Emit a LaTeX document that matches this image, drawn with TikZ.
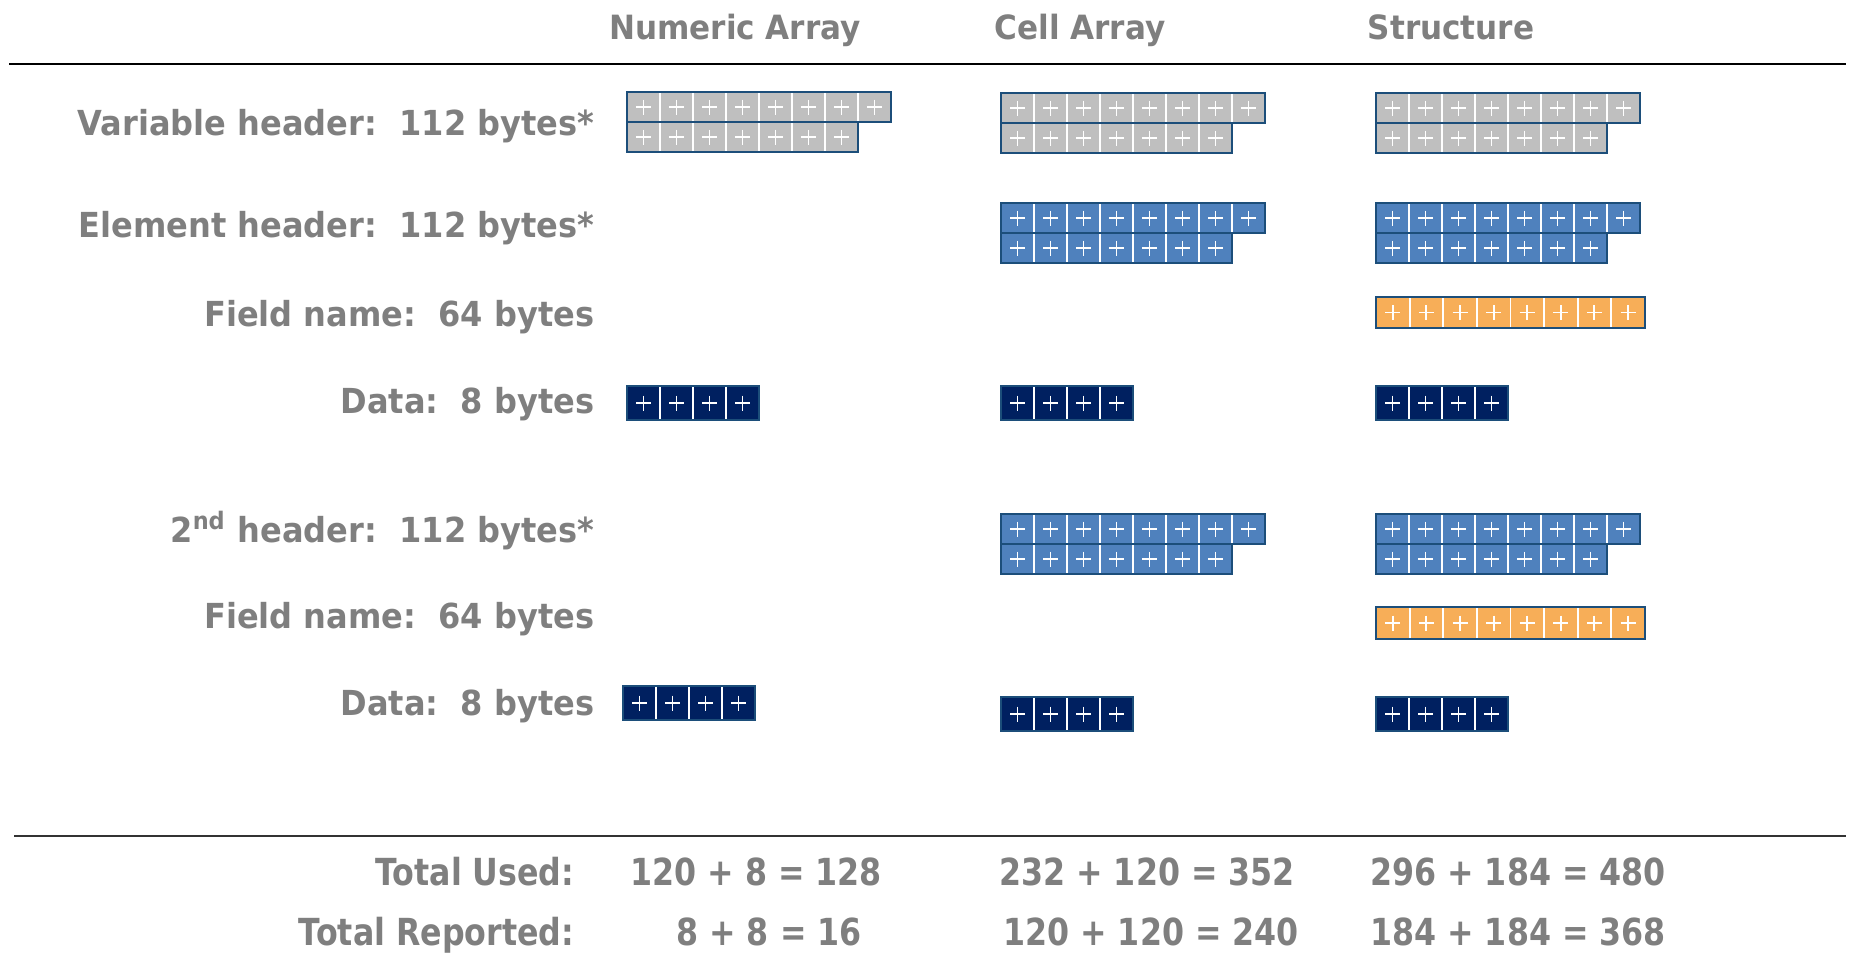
\documentclass[tikz,border=0pt]{standalone}
\usepackage{fontspec}
\setmainfont{DejaVu Sans}[FakeStretch=0.93]
\newfontfamily\totfont{DejaVu Sans}[FakeStretch=0.85]
\usepackage{xcolor}
\usepackage{tikz}
\usetikzlibrary{positioning}

\definecolor{txtgray}{RGB}{127,127,127}
\definecolor{hdrgray}{RGB}{191,191,191}
\definecolor{hdrblue}{RGB}{79,129,189}
\definecolor{fldorange}{RGB}{247,174,88}
\definecolor{datanavy}{RGB}{0,32,96}
\definecolor{edgeblue}{RGB}{28,78,122}

\tikzset{
  lbl/.style={anchor=base east, text=txtgray, font=\bfseries\fontsize{9.8}{11}\selectfont, inner sep=0pt},
  colhead/.style={anchor=base, text=txtgray, font=\bfseries\fontsize{9.5}{11}\selectfont, inner sep=0pt},
  tot/.style={anchor=base east, text=txtgray, font=\totfont\bfseries\fontsize{10.6}{12}\selectfont, inner sep=0pt},
  totval/.style={anchor=base, text=txtgray, font=\totfont\bfseries\fontsize{10.6}{12}\selectfont, inner sep=0pt},
  cellline/.style={draw=white, line width=0.5pt},
  plusline/.style={draw=white, line width=0.55pt},
  blockline/.style={draw=edgeblue, line width=0.55pt},
}

% one row of byte cells: x, y (top left), count, fill, height, width
\newcommand{\cellrow}[6]{%
  \foreach \i in {1,...,#3}{
    \fill[#4] ({#1+(\i-1)*#6},#2) rectangle ++(#6,#5);
    \draw[cellline] ({#1+(\i-1)*#6},#2) rectangle ++(#6,#5);
    \draw[plusline] ({#1+(\i-0.5)*#6-7.5},{#2+#5/2}) -- ++(15,0)
      ({#1+(\i-0.5)*#6},{#2+#5/2-7.5}) -- ++(0,15);
  }
  \draw[blockline] (#1,#2) rectangle ++({#3*#6},#5);
}
% 112 byte header: 8 cells over 7 cells
\newcommand{\hdrblock}[3]{%
  \cellrow{#1}{#2}{8}{#3}{30}{33}
  \cellrow{#1}{#2+30}{7}{#3}{30}{33}
  \fill[white] ({#1+231},{#2+31}) rectangle ++(40,30);
  \draw[blockline] (#1,#2) -- ++(264,0) -- ++(0,30) -- ++(-33,0)
    -- ++(0,30) -- ++(-231,0) -- cycle;
}

\begin{document}
\begin{tikzpicture}[x=0.01cm,y=-0.01cm]
  \useasboundingbox (0,0) rectangle (1849,953);

  % column titles
  \node[colhead] (hnum) at (735,39) {Numeric Array};
  \node[colhead] (hcell) at (1080,39) {Cell Array};
  \node[colhead] (hstruct) at (1451,39) {Structure};
  \draw[line width=0.6pt] (9,64) -- (1846,64);

  % row labels
  \node[lbl] (lvar) at (595,135) {Variable header:~~112 bytes*};
  \node[lbl] (lelem) at (595,237) {Element header:~~112 bytes*};
  \node[lbl] (lfld) at (595,326) {Field name:~~64 bytes};
  \node[lbl] (ldat) at (595,413) {Data:~~8 bytes};
  \node[lbl] (lsec) at (595,542) {2\textsuperscript{nd} header:~~112 bytes*};
  \node[lbl] (lfldb) at (595,628) {Field name:~~64 bytes};
  \node[lbl] (ldatb) at (595,715) {Data:~~8 bytes};

  % numeric array
  \hdrblock{627}{92}{hdrgray}
  \cellrow{627}{386}{4}{datanavy}{34}{33}
  \cellrow{623}{686}{4}{datanavy}{34}{33}

  % cell array
  \hdrblock{1001}{93}{hdrgray}
  \hdrblock{1001}{203}{hdrblue}
  \cellrow{1001}{386}{4}{datanavy}{34}{33}
  \hdrblock{1001}{514}{hdrblue}
  \cellrow{1001}{697}{4}{datanavy}{34}{33}

  % structure
  \hdrblock{1376}{93}{hdrgray}
  \hdrblock{1376}{203}{hdrblue}
  \cellrow{1376}{297}{8}{fldorange}{31}{33.6}
  \cellrow{1376}{386}{4}{datanavy}{34}{33}
  \hdrblock{1376}{514}{hdrblue}
  \cellrow{1376}{607}{8}{fldorange}{32}{33.6}
  \cellrow{1376}{697}{4}{datanavy}{34}{33}

  % totals
  \draw[line width=0.6pt, black!80] (14,836) -- (1846,836);
  \node[tot] (tused) at (575,885) {Total Used:};
  \node[tot] (trep) at (575,945) {Total Reported:};
  \node[totval] (unum) at (756,885) {120 + 8 = 128};
  \node[totval] (ucell) at (1147,885) {232 + 120 = 352};
  \node[totval] (ustruct) at (1518,885) {296 + 184 = 480};
  \node[totval] (rnum) at (769,945) {8 + 8 = 16};
  \node[totval] (rcell) at (1151,945) {120 + 120 = 240};
  \node[totval] (rstruct) at (1518,945) {184 + 184 = 368};
\end{tikzpicture}
\end{document}
